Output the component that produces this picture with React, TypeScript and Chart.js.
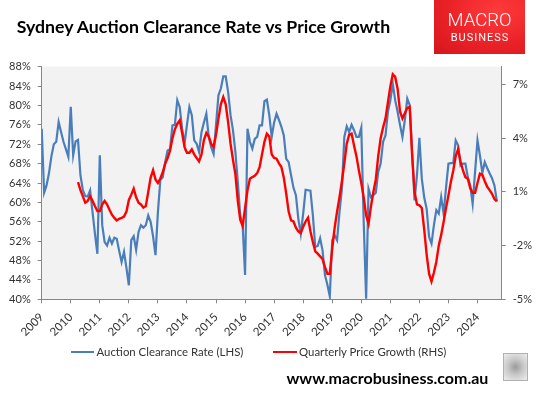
import React, { useEffect, useRef } from "react";
import { Chart, registerables } from "chart.js";

Chart.register(...registerables);

// Month index 0 = Jan 2009
const FIRST_YEAR = 2009;
const yearTicks = [2009, 2010, 2011, 2012, 2013, 2014, 2015, 2016, 2017, 2018, 2019, 2020, 2021, 2022, 2023, 2024];
const leftTicks = [40, 44, 48, 52, 56, 60, 64, 68, 72, 76, 80, 84, 88];
const rightTicks = [-5, -2, 1, 4, 7];

// Auction clearance rate (%), monthly from Jan 2009
const clearanceRate = [
  75.2, 62, 63.5, 66, 69.5, 72, 72.5, 76.6, 74.5, 72.5, 71, 69.4,
  79.7, 69.7, 72.6, 72.9, 65.6, 62.5, 61.3, 61.2, 62.5, 58, 53.5, 49.4,
  69.7, 55.3, 51.8, 51.1, 52.7, 51.5, 52.7, 52.5, 50, 47.7, 49.8, 46.5,
  42.9, 52.2, 53, 50.2, 53.9, 55.3, 54.8, 55.3, 57.3, 56, 53, 49.1,
  58, 64.6, 65.2, 68.3, 70.7, 71, 75.9, 76, 81.1, 79.7, 75.2, 72.1,
  76, 79.7, 78, 72.8, 72.1, 70.4, 74.5, 76.5, 78.3, 73.5, 71.4, 70,
  76, 82.1, 83.5, 86, 86, 82.8, 78, 74.9, 70.4, 64.2, 57.3, 55.3,
  45, 75.2, 72.5, 71.1, 73.1, 73.5, 75.9, 75.9, 80.9, 81.2, 78, 73.5,
  76.5, 78.3, 77, 75.6, 73.8, 69, 68.3, 65.6, 63, 61.5, 56.6, 53.5,
  57.7, 62.6, 62.5, 62.4, 57.3, 50.8, 51, 52.6, 50.1, 45, 43, 40.6,
  52.2, 53.2, 52.2, 58, 62.8, 73.5, 75.7, 74.5, 76, 74.9, 73.5, 73.5,
  75.4, 56, 40.1, 62.8, 61.1, 61.5, 62, 66.3, 68, 72.5, 73.8, 78.7,
  81, 84.5, 81.1, 78.7, 76, 73.5, 77, 81.4, 80.1, 70.4, 60.4, 65.6,
  73.3, 64.9, 61, 58.7, 52.9, 51.5, 55.3, 58.4, 57.7, 61.1, 57.7, 63,
  68, 68.1, 68.1, 72.8, 71.8, 67.6, 68, 68, 65.2, 63.5, 59.7, 66.3,
  72.8, 69.7, 66.1, 68.3, 67.1, 66, 65, 63.5, 60.2,
];

// Quarterly price growth (%), monthly from Apr 2010
const priceGrowthStart = 15;
const priceGrowth = [
  1.55, 1.1, 0.75, 0.4, 0.5, 0.76, 0.5, 0.2, -0.07,
  -0.07, 0.3, 0.5, 0.3, 0, -0.27, -0.45, -0.59, -0.5, -0.45, -0.38, -0.1,
  0.55, 0.85, 1.18, 0.7, 0.4, 0.3, 0.12, 0.21, 1.0, 1.8, 2.21, 1.7,
  1.5, 1.75, 2.1, 2.58, 2.9, 3.3, 4.0, 4.5, 4.8, 5.0, 4.3, 3.5,
  3.19, 3.19, 3.38, 3.1, 2.9, 2.71, 3.1, 3.9, 4.3, 4.1, 3.7, 3.51,
  4.2, 5.1, 5.9, 6.3, 5.9, 4.9, 3.7, 2.8, 2.0, 0.5, -0.55, -0.9,
  0.1, 1.1, 1.74, 1.83, 1.9, 2.05, 2.39, 3.1, 3.8, 4.26, 4.1, 3.1,
  2.9, 2.86, 2.6, 2.39, 1.8, 0.9, -0.1, -0.59, -0.65, -1.0, -1.2, -1.3,
  -0.95, -0.65, -0.44, -1.2, -1.8, -2.32, -2.45, -2.6, -2.75, -3.2, -3.57, -3.57,
  -2.17, -1.0, -0.1, 0.7, 1.6, 2.6, 3.7, 4.2, 4.26, 3.6, 3.0, 2.21,
  1.5, 0.7, -0.3, -0.78, 0.2, 1.0, 1.7, 3.0, 4.0, 4.6, 5.1, 6.0,
  6.9, 7.58, 7.43, 6.77, 5.5, 5.1, 5.4, 5.7, 5.75, 3.05, 1.0, 0.3,
  0.25, 0.1, -1.1, -2.5, -3.57, -4.0, -3.5, -2.9, -2.0, -1.4, -0.68, 0.1,
  0.8, 1.56, 2.2, 3.0, 3.38, 2.7, 2.2, 1.83, 1.74, 1.22, 0.95, 0.95,
  1.5, 2.02, 1.97, 1.6, 1.3, 1.1, 0.9, 0.6, 0.48,
];

const BLUE = "#4a7ebb";
const RED = "#ff0000";
const AXIS = "#868686";
const TEXT = "#333333";
const FONT = "Lato, 'Open Sans', sans-serif";

const plotBg = {
  id: "plotBg",
  beforeDraw(chart: any) {
    const { ctx, chartArea } = chart;
    ctx.save();
    ctx.fillStyle = "#f2f2f2";
    ctx.fillRect(chartArea.left, chartArea.top, chartArea.right - chartArea.left, chartArea.bottom - chartArea.top);
    ctx.restore();
  },
};

function LineChart() {
  const ref = useRef<HTMLCanvasElement | null>(null);
  useEffect(() => {
    if (!ref.current) return;
    const tickFont = { family: FONT, size: 11 };
    const chart = new Chart(ref.current, {
      type: "line",
      data: {
        datasets: [
          {
            label: "Quarterly Price Growth (RHS)",
            data: priceGrowth.map((v, i) => ({ x: priceGrowthStart + i, y: v })),
            borderColor: RED,
            borderWidth: 2.4,
            pointRadius: 0,
            yAxisID: "y1",
            order: 0,
          },
          {
            label: "Auction Clearance Rate (LHS)",
            data: clearanceRate.map((v, i) => ({ x: i, y: v })),
            borderColor: BLUE,
            borderWidth: 2.2,
            pointRadius: 0,
            yAxisID: "y",
            order: 1,
          },
        ],
      },
      options: {
        animation: false,
        responsive: false,
        devicePixelRatio: 1,
        events: [],
        layout: { padding: { top: 66.7, left: 0, right: 0, bottom: 0 } },
        plugins: { legend: { display: false }, tooltip: { enabled: false } },
        scales: {
          x: {
            type: "linear",
            min: 0,
            max: 190,
            afterBuildTicks: (s: any) => {
              s.ticks = yearTicks.map((y) => ({ value: (y - FIRST_YEAR) * 12 }));
            },
            afterFit: (s: any) => {
              s.height = 93.7;
            },
            ticks: {
              callback: (v: any) => String(FIRST_YEAR + Math.round(Number(v) / 12)),
              minRotation: 45,
              maxRotation: 45,
              autoSkip: false,
              font: { family: FONT, size: 11.5 },
              color: TEXT,
              padding: 7,
            },
            grid: { drawOnChartArea: false, drawTicks: true, tickLength: 4, color: AXIS },
            border: { color: AXIS, width: 1 },
          },
          y: {
            position: "left",
            min: 40,
            max: 88,
            afterBuildTicks: (s: any) => {
              s.ticks = leftTicks.map((v) => ({ value: v }));
            },
            afterFit: (s: any) => {
              s.width = 41.7;
            },
            ticks: { callback: (v: any) => v + "%", font: tickFont, color: TEXT, padding: 7 },
            grid: { drawOnChartArea: false, drawTicks: true, tickLength: 4, color: AXIS },
            border: { color: AXIS, width: 1 },
          },
          y1: {
            position: "right",
            min: -5,
            max: 8,
            afterBuildTicks: (s: any) => {
              s.ticks = rightTicks.map((v) => ({ value: v }));
            },
            afterFit: (s: any) => {
              s.width = 43.3;
            },
            ticks: { callback: (v: any) => v + "%", font: tickFont, color: TEXT, padding: 7 },
            grid: { drawOnChartArea: false, drawTicks: true, tickLength: 4, color: AXIS },
            border: { color: AXIS, width: 1 },
          },
        },
      },
      plugins: [plotBg],
    } as any);
    return () => chart.destroy();
  }, []);
  return <canvas ref={ref} width={545} height={393} style={{ position: "absolute", left: 0, top: 0, width: 545, height: 393 }} />;
}

export default function App() {
  return (
    <div style={{ position: "absolute", left: 0, top: 0, width: 545, height: 393, background: "#fff", overflow: "hidden", fontFamily: FONT }}>
      <LineChart />
      <div style={{ position: "absolute", left: 16.7, top: 17, fontSize: 17.7, fontWeight: 700, lineHeight: "20px", color: "#000", whiteSpace: "nowrap" }}>
        Sydney Auction Clearance Rate vs Price Growth
      </div>
      <div
        style={{
          position: "absolute",
          left: 434,
          top: 0,
          width: 91,
          height: 54,
          background: "radial-gradient(ellipse at 70% 20%, #ff3b3b 0%, #ea2228 55%, #d4161c 100%)",
          color: "#fff",
          textAlign: "center",
        }}
      >
        <div style={{ position: "absolute", left: 0, right: 0, top: 10, fontFamily: "Roboto, sans-serif", fontWeight: 300, fontSize: 18.5, lineHeight: "20px" }}>MACRO</div>
        <div style={{ position: "absolute", left: 0, right: 0, top: 31, fontFamily: "Roboto, sans-serif", fontWeight: 400, fontSize: 11, letterSpacing: 1, lineHeight: "13px", paddingLeft: 1 }}>BUSINESS</div>
      </div>
      <div style={{ position: "absolute", left: 70.5, top: 350.5, width: 23, height: 2.5, background: BLUE }} />
      <div style={{ position: "absolute", left: 96.5, top: 344, fontSize: 11.4, lineHeight: "16px", color: TEXT, whiteSpace: "nowrap" }}>
        Auction Clearance Rate (LHS)
      </div>
      <div style={{ position: "absolute", left: 273, top: 350.5, width: 24, height: 2.5, background: RED }} />
      <div style={{ position: "absolute", left: 299, top: 344, fontSize: 11.4, lineHeight: "16px", color: TEXT, whiteSpace: "nowrap" }}>
        Quarterly Price Growth (RHS)
      </div>
      <div style={{ position: "absolute", left: 286.5, top: 367.5, fontSize: 16, fontWeight: 700, lineHeight: "20px", color: "#000", whiteSpace: "nowrap" }}>
        www.macrobusiness.com.au
      </div>
      <div
        style={{
          position: "absolute",
          left: 503,
          top: 353,
          width: 23,
          height: 26,
          border: "1px solid #b0b0b0",
          background: "radial-gradient(circle at 50% 50%, #9a9a9a 0%, #c8c8c8 45%, #eeeeee 100%)",
        }}
      />
    </div>
  );
}
